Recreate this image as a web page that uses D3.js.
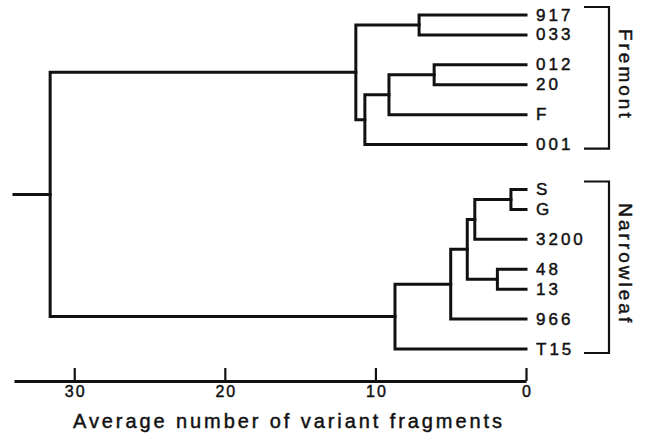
<!DOCTYPE html>
<html>
<head>
<meta charset="utf-8">
<script src="https://cdn.jsdelivr.net/npm/d3@7"></script>
<style>
  body { margin: 0; background: #fff; }
  text { font-family: "Liberation Sans", Arial, sans-serif; fill: #111; stroke: #111; stroke-width: 0.45px; }
</style>
</head>
<body>
<div id="chart"></div>
<script>
// leaves top to bottom, and the group each one belongs to
const leaves = ["917", "033", "012", "20", "F", "001", "S", "G", "3200", "48", "13", "966", "T15"];
const leafGroup = ["Fremont", "Fremont", "Fremont", "Fremont", "Fremont", "Fremont",
  "Narrowleaf", "Narrowleaf", "Narrowleaf", "Narrowleaf", "Narrowleaf", "Narrowleaf", "Narrowleaf"];
const groups = ["Fremont", "Narrowleaf"];

// merges: [left, right, height]; merged clusters are called m0, m1, ...
const merges = [
  ["S", "G", 1.0],      // m0
  ["48", "13", 1.9],    // m1
  ["m0", "3200", 3.4],  // m2
  ["m2", "m1", 3.9],    // m3
  ["m3", "966", 5.0],   // m4
  ["m4", "T15", 8.7],   // m5
  ["012", "20", 6.1],   // m6
  ["917", "033", 7.1],  // m7
  ["m6", "F", 9.1],     // m8
  ["m8", "001", 10.7],  // m9
  ["m7", "m9", 11.3],   // m10
  ["m10", "m5", 31.6]   // m11 (root)
];
const xTicks = [30, 20, 10, 0];
const xMax = 34;
const xTitle = "Average number of variant fragments";

const width = 649, height = 434;

const svg = d3.select("#chart").append("svg")
  .attr("width", width)
  .attr("height", height);

const x = d3.scaleLinear().domain([xMax, 0]).range([14, 526]);

// build nodes
const nodes = {};
leaves.forEach((name, i) => { nodes[name] = { name: name, h: 0, leaf: true, index: i }; });
merges.forEach((m, i) => {
  nodes["m" + i] = { name: "m" + i, h: m[2], children: [nodes[m[0]], nodes[m[1]]] };
});
const root = nodes["m" + (merges.length - 1)];

// row spacing: close for sister leaves, wider between groups
function isSisters(a, b) {
  return merges.some(m => (m[0] === a && m[1] === b) || (m[0] === b && m[1] === a));
}
const rowUnits = [0];
for (let i = 1; i < leaves.length; i++) {
  let gap = 3;
  if (leafGroup[i] !== leafGroup[i - 1]) gap = 4.5;
  else if (isSisters(leaves[i - 1], leaves[i])) gap = 2;
  rowUnits.push(rowUnits[i - 1] + gap);
}
const y = d3.scaleLinear().domain([0, rowUnits[rowUnits.length - 1]]).range([15, 349]);

function setY(n) {
  if (n.leaf) n.y = y(rowUnits[n.index]);
  else {
    n.children.forEach(setY);
    n.y = d3.mean(n.children, c => c.y);
  }
}
setY(root);

// elbows
const g = svg.append("g")
  .attr("fill", "none")
  .attr("stroke", "#111")
  .attr("stroke-width", 3)
  .attr("stroke-linecap", "square");

const internal = Object.values(nodes).filter(n => !n.leaf);
internal.forEach(n => {
  const p = d3.path();
  const [a, b] = n.children;
  p.moveTo(x(a.h), a.y);
  p.lineTo(x(n.h), a.y);
  p.lineTo(x(n.h), b.y);
  p.lineTo(x(b.h), b.y);
  g.append("path").attr("d", p.toString()).attr("stroke-linejoin", "miter");
});

// root stub
g.append("line")
  .attr("x1", x(xMax)).attr("x2", x(root.h))
  .attr("y1", root.y).attr("y2", root.y);

// leaf labels
svg.append("g").selectAll("text")
  .data(leaves.map(name => nodes[name]))
  .join("text")
  .attr("x", x(0) + 10)
  .attr("y", d => d.y)
  .attr("dominant-baseline", "central")
  .attr("font-size", 17)
  .attr("letter-spacing", 3)
  .text(d => d.name);

// group brackets
groups.forEach(grp => {
  const ys = leaves.filter((l, i) => leafGroup[i] === grp).map(l => nodes[l].y);
  const top = d3.min(ys) - 8, bottom = d3.max(ys) + 4;
  svg.append("path")
    .attr("d", `M584,${top}H609V${bottom}H584`)
    .attr("fill", "none")
    .attr("stroke", "#111")
    .attr("stroke-width", 2.2);
  const mid = (top + bottom) / 2 - 3;
  svg.append("text")
    .attr("transform", `translate(625,${mid}) rotate(90)`)
    .attr("text-anchor", "middle")
    .attr("dominant-baseline", "central")
    .attr("font-size", 19)
    .attr("letter-spacing", 3)
    .text(grp);
});

// axis
const axis = d3.axisBottom(x)
  .tickValues(xTicks)
  .tickSizeInner(-13)
  .tickSizeOuter(0)
  .tickPadding(5);

const axisG = svg.append("g")
  .attr("transform", "translate(0,381)")
  .call(axis);
axisG.select(".domain").attr("stroke", "#111").attr("stroke-width", 3);
axisG.selectAll(".tick line").attr("stroke", "#111").attr("stroke-width", 2.2);
axisG.selectAll(".tick text")
  .attr("font-size", 16)
  .attr("font-family", "Liberation Sans, Arial, sans-serif")
  .attr("fill", "#111")
  .attr("letter-spacing", 2)
  .attr("dx", 1);

svg.append("text")
  .attr("x", 73)
  .attr("y", 428)
  .attr("font-size", 20)
  .attr("textLength", 429)
  .attr("lengthAdjust", "spacing")
  .text(xTitle);
</script>
</body>
</html>
